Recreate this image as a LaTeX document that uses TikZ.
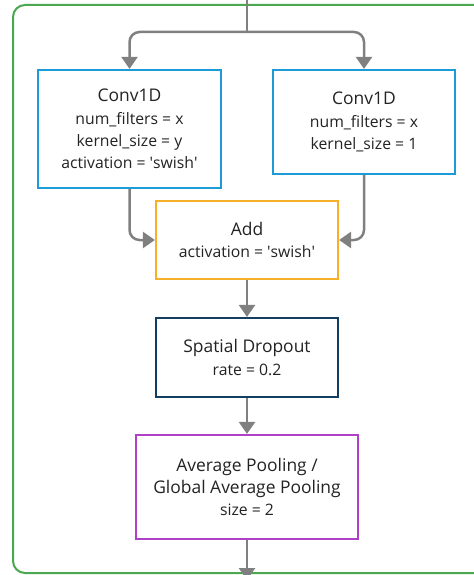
\documentclass[tikz,border=0pt]{standalone}
\usepackage{fontspec}
\setmainfont{Open Sans}
\usetikzlibrary{arrows.meta}
\definecolor{framegreen}{RGB}{76,168,80}
\definecolor{convblue}{RGB}{28,155,215}
\definecolor{addorange}{RGB}{245,176,40}
\definecolor{dropnavy}{RGB}{18,62,98}
\definecolor{poolpurple}{RGB}{176,64,200}
\definecolor{arrowgray}{RGB}{128,128,128}
\definecolor{txt}{RGB}{35,35,35}
\tikzset{
  layer/.style={draw, line width=2.2bp, fill=white, text=txt, align=center,
    inner sep=0pt, font=\fontsize{15.8}{22.5}\selectfont},
  conn/.style={draw=arrowgray, line width=2.5bp, rounded corners=10bp,
    -{Triangle[width=16bp,length=12bp]}},
  plain/.style={draw=arrowgray, line width=2.5bp, rounded corners=10bp},
}
\newcommand{\ttl}[1]{{\fontsize{17.5}{22.5}\selectfont #1}}
\newcommand{\q}{\textquotesingle}
\begin{document}
\begin{tikzpicture}[x=1bp,y=-1bp]
\useasboundingbox (0,0) rectangle (474,575);
\clip (0,0) rectangle (474,575);
\draw[framegreen, line width=2bp, rounded corners=12bp] (13,5) rectangle (500,573);

\node[layer, draw=convblue, minimum width=183bp, minimum height=118bp] (c1) at (129.5,129)
  {\ttl{Conv1D}\\num\_filters = x\\kernel\_size = y\\activation = \q swish\q};
\node[layer, draw=convblue, minimum width=182bp, minimum height=104bp] (c2) at (364,122)
  {\ttl{Conv1D}\\num\_filters = x\\kernel\_size = 1};
\node[layer, draw=addorange, minimum width=182bp, minimum height=78bp] (add) at (247,240)
  {\ttl{Add}\\activation = \q swish\q};
\node[layer, draw=dropnavy, minimum width=182bp, minimum height=79bp] (drop) at (247,357.5)
  {\ttl{Spatial Dropout}\\rate = 0.2};
\node[layer, draw=poolpurple, minimum width=222bp, minimum height=104bp] (pool) at (247,487)
  {\ttl{Average Pooling /}\\\ttl{Global Average Pooling}\\size = 2};

\coordinate (top) at (247,0);
\coordinate (split) at (247,32);
\coordinate (bottom) at (247,580);

\draw[plain] (top) -- (split);
\draw[conn] (split) -| (c1.north);
\draw[conn] (split) -| (c2.north);
\draw[conn] (c1.south) |- (add.west);
\draw[conn] (c2.south) |- (add.east);
\draw[conn] (add.south) -- (drop.north);
\draw[conn] (drop.south) -- (pool.north);
\draw[conn] (pool.south) -- (bottom);
\end{tikzpicture}
\end{document}
